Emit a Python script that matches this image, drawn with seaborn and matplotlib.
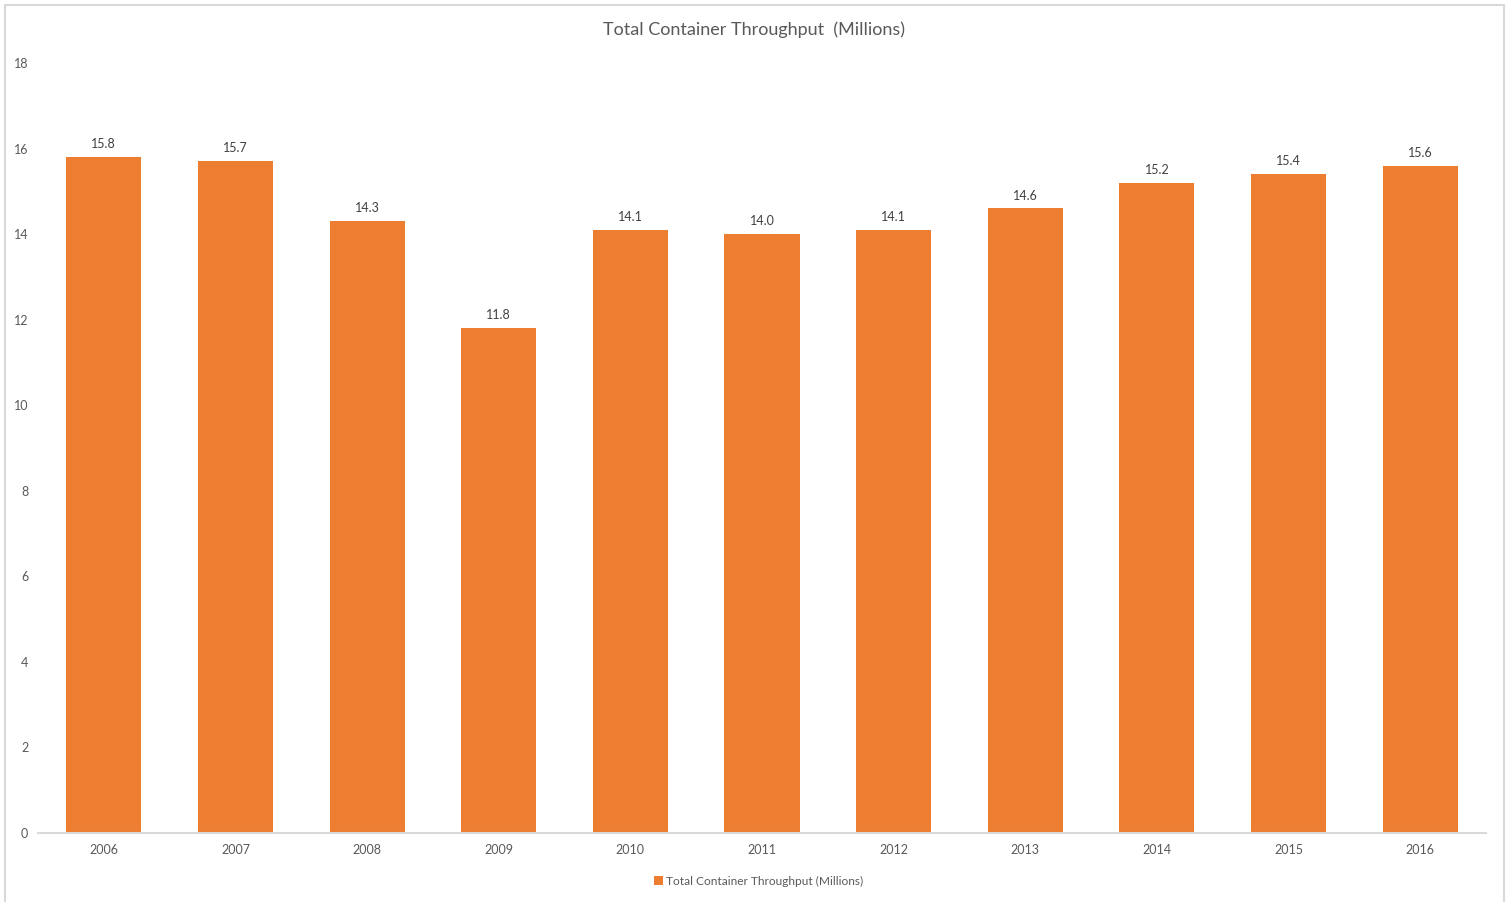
import matplotlib
matplotlib.use("Agg")
import matplotlib.pyplot as plt
from matplotlib.patches import Rectangle
import seaborn as sns
import pandas as pd

years = ["2006", "2007", "2008", "2009", "2010", "2011", "2012", "2013", "2014", "2015", "2016"]
throughput = [15.8, 15.7, 14.3, 11.8, 14.1, 14.0, 14.1, 14.6, 15.2, 15.4, 15.6]
y_ticks = [0, 2, 4, 6, 8, 10, 12, 14, 16, 18]
series_name = "Total Container Throughput (Millions)"
title = "Total Container Throughput  (Millions)"

sns.set_theme(style="white")
plt.rcParams["font.family"] = ["Lato", "DejaVu Sans"]

TEXT = "#595959"
BAR = "#ED7D31"
LINE = "#D9D9D9"

df = pd.DataFrame({"year": years, "value": throughput})

fig = plt.figure(figsize=(15.1, 9.02), dpi=100)
ax = fig.add_axes([38 / 1510, 1 - 833 / 902, (1486 - 38) / 1510, (833 - 63) / 902])

sns.barplot(data=df, x="year", y="value", color=BAR, width=0.57,
            saturation=1, ax=ax, label=series_name, errorbar=None,
            linewidth=0)

for c in ax.containers:
    ax.bar_label(c, labels=[f"{v:.1f}" for v in throughput],
                 padding=5, fontsize=9, color="#404040")

ax.set_ylim(0, 18)
ax.set_yticks(y_ticks)
ax.set_xlim(-0.5, len(years) - 0.5)
ax.set_xlabel("")
ax.set_ylabel("")
ax.tick_params(axis="both", length=0, labelsize=9, labelcolor=TEXT)
ax.tick_params(axis="y", pad=7)
ax.tick_params(axis="x", pad=8)

for side in ["left", "right", "top"]:
    ax.spines[side].set_visible(False)
ax.spines["bottom"].set_color(LINE)
ax.spines["bottom"].set_linewidth(1.5)

fig.text(754 / 1510, 1 - 30 / 902, title, ha="center", va="center",
         fontsize=13, color=TEXT)

handles, labels = ax.get_legend_handles_labels()
if ax.get_legend() is not None:
    ax.get_legend().remove()
leg = fig.legend(handles[:1], labels[:1], loc="center",
                 bbox_to_anchor=(759 / 1510, 1 - 881 / 902),
                 frameon=False, fontsize=8.6, handlelength=0.7,
                 handleheight=0.7, handletextpad=0.3)
for t in leg.get_texts():
    t.set_color(TEXT)

fig.add_artist(Rectangle((5 / 1510, -0.01), 1499 / 1510, 1 - 5 / 902 + 0.01,
                         transform=fig.transFigure, fill=False,
                         edgecolor=LINE, linewidth=1.5))

fig.savefig("out.png", dpi=100, facecolor="white")
